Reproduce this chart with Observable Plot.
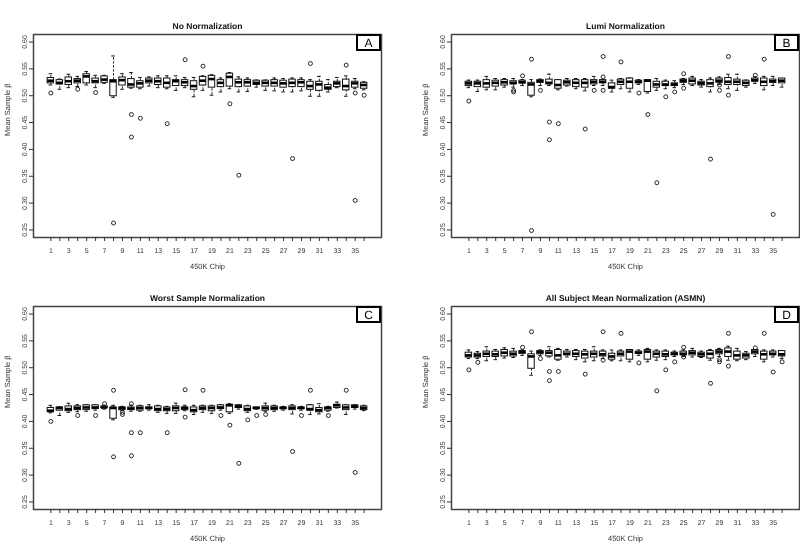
<!DOCTYPE html>
<html><head><meta charset="utf-8">
<script src="https://cdn.jsdelivr.net/npm/d3@7"></script>
<script src="https://cdn.jsdelivr.net/npm/@observablehq/plot@0.6"></script>
<style>
body{margin:0;background:#fff;}
#wrap{position:relative;width:800px;height:544px;overflow:hidden;background:#fff;}
.panel{position:absolute;will-change:transform;-webkit-font-smoothing:antialiased;}
.panel svg text{text-rendering:geometricPrecision;}
</style></head><body><div id="wrap"></div>
<script>
const chips = d3.range(1, 37);
const yTicks = [0.25, 0.30, 0.35, 0.40, 0.45, 0.50, 0.55, 0.60];
const panelTitles = ["No Normalization", "Lumi Normalization", "Worst Sample Normalization", "All Subject Mean Normalization (ASMN)"];
const panelLetters = ["A", "B", "C", "D"];
const xLabel = "450K Chip";
const yLabel = "Mean Sample \u03b2";

// Panel A: No Normalization
const aLo  = [0.520,0.512,0.515,0.517,0.520,0.515,0.523,0.497,0.512,0.514,0.513,0.518,0.515,0.513,0.510,0.515,0.498,0.510,0.501,0.507,0.513,0.507,0.508,0.516,0.510,0.509,0.507,0.507,0.509,0.499,0.499,0.507,0.515,0.499,0.513,0.511];
const aQ1  = [0.523,0.521,0.520,0.523,0.523,0.523,0.524,0.499,0.519,0.515,0.515,0.523,0.520,0.515,0.518,0.518,0.511,0.519,0.515,0.516,0.517,0.516,0.517,0.520,0.517,0.517,0.515,0.516,0.516,0.511,0.509,0.511,0.516,0.510,0.515,0.513];
const aMed = [0.528,0.524,0.527,0.528,0.536,0.527,0.530,0.527,0.529,0.521,0.523,0.528,0.527,0.524,0.527,0.525,0.518,0.528,0.531,0.524,0.535,0.525,0.525,0.524,0.524,0.524,0.523,0.524,0.525,0.518,0.521,0.515,0.523,0.518,0.523,0.520];
const aQ3  = [0.533,0.529,0.534,0.531,0.540,0.532,0.536,0.529,0.534,0.531,0.527,0.532,0.532,0.532,0.529,0.529,0.527,0.535,0.537,0.529,0.541,0.530,0.529,0.528,0.528,0.529,0.528,0.530,0.529,0.526,0.526,0.520,0.526,0.530,0.526,0.524];
const aHi  = [0.541,0.531,0.540,0.536,0.545,0.538,0.538,0.574,0.541,0.543,0.534,0.535,0.537,0.537,0.537,0.534,0.534,0.537,0.539,0.533,0.543,0.535,0.533,0.529,0.529,0.533,0.532,0.533,0.533,0.530,0.536,0.530,0.534,0.537,0.532,0.526];
const aOut = [[1,0.505],[4,0.512],[6,0.506],[8,0.263],[10,0.465],[10,0.423],[11,0.458],[14,0.448],[16,0.567],[18,0.555],[21,0.485],[22,0.352],[28,0.383],[30,0.560],[34,0.557],[35,0.505],[35,0.305],[36,0.501]];

// Panel B: Lumi Normalization
const bLo  = [0.515,0.508,0.511,0.511,0.516,0.516,0.519,0.498,0.519,0.519,0.511,0.518,0.513,0.509,0.519,0.519,0.507,0.513,0.507,0.521,0.505,0.510,0.513,0.515,0.521,0.519,0.516,0.507,0.521,0.513,0.510,0.516,0.523,0.511,0.519,0.516];
const bQ1  = [0.518,0.516,0.515,0.517,0.519,0.521,0.523,0.500,0.524,0.521,0.513,0.519,0.516,0.515,0.521,0.523,0.513,0.520,0.513,0.523,0.507,0.515,0.518,0.518,0.524,0.521,0.519,0.516,0.524,0.520,0.520,0.518,0.526,0.518,0.524,0.523];
const bMed = [0.523,0.523,0.523,0.524,0.525,0.524,0.525,0.521,0.527,0.524,0.520,0.525,0.524,0.524,0.526,0.526,0.516,0.526,0.526,0.526,0.528,0.521,0.521,0.521,0.528,0.528,0.523,0.523,0.528,0.526,0.526,0.524,0.529,0.526,0.527,0.528];
const bQ3  = [0.526,0.526,0.529,0.528,0.529,0.527,0.528,0.524,0.529,0.530,0.529,0.528,0.529,0.529,0.529,0.529,0.523,0.530,0.532,0.528,0.529,0.526,0.526,0.523,0.530,0.532,0.526,0.529,0.532,0.533,0.530,0.528,0.532,0.532,0.530,0.532];
const bHi  = [0.529,0.529,0.536,0.532,0.532,0.532,0.530,0.530,0.531,0.540,0.530,0.532,0.532,0.532,0.536,0.530,0.529,0.532,0.533,0.530,0.530,0.532,0.529,0.528,0.532,0.536,0.530,0.533,0.535,0.540,0.540,0.529,0.535,0.536,0.536,0.532];
const bOut = [[1,0.490],[6,0.510],[6,0.507],[7,0.537],[8,0.568],[8,0.249],[9,0.510],[10,0.451],[10,0.418],[11,0.448],[14,0.438],[15,0.510],[16,0.573],[16,0.535],[16,0.510],[18,0.563],[20,0.505],[21,0.465],[22,0.338],[23,0.498],[24,0.507],[25,0.541],[25,0.514],[28,0.382],[29,0.520],[29,0.510],[30,0.573],[30,0.501],[33,0.538],[34,0.568],[35,0.279]];

// Panel C: Worst Sample Normalization
const cLo  = [0.416,0.411,0.417,0.418,0.419,0.421,0.423,0.403,0.420,0.419,0.419,0.421,0.417,0.415,0.415,0.420,0.413,0.417,0.415,0.421,0.415,0.423,0.417,0.423,0.419,0.419,0.421,0.414,0.421,0.413,0.414,0.419,0.425,0.413,0.423,0.420];
const cQ1  = [0.417,0.420,0.419,0.421,0.421,0.423,0.425,0.405,0.421,0.421,0.420,0.423,0.419,0.419,0.419,0.421,0.417,0.421,0.419,0.423,0.417,0.425,0.419,0.423,0.420,0.421,0.423,0.421,0.423,0.420,0.417,0.420,0.425,0.421,0.425,0.421];
const cMed = [0.420,0.425,0.423,0.425,0.426,0.426,0.426,0.425,0.425,0.424,0.425,0.425,0.423,0.423,0.425,0.425,0.421,0.425,0.425,0.426,0.430,0.428,0.423,0.425,0.425,0.425,0.425,0.425,0.425,0.423,0.421,0.425,0.430,0.426,0.428,0.425];
const cQ3  = [0.425,0.426,0.428,0.428,0.430,0.430,0.428,0.426,0.426,0.426,0.428,0.426,0.428,0.426,0.428,0.426,0.426,0.428,0.428,0.430,0.431,0.430,0.428,0.426,0.428,0.428,0.426,0.428,0.426,0.430,0.425,0.426,0.431,0.430,0.430,0.428];
const cHi  = [0.430,0.427,0.434,0.431,0.431,0.431,0.430,0.430,0.428,0.430,0.430,0.431,0.430,0.428,0.434,0.430,0.430,0.430,0.430,0.431,0.433,0.431,0.430,0.426,0.434,0.430,0.428,0.431,0.428,0.431,0.433,0.428,0.436,0.431,0.431,0.430];
const cOut = [[1,0.400],[4,0.411],[6,0.411],[7,0.433],[8,0.458],[8,0.334],[9,0.417],[9,0.413],[10,0.433],[10,0.379],[10,0.336],[11,0.379],[14,0.379],[16,0.459],[16,0.408],[18,0.458],[20,0.411],[21,0.393],[22,0.322],[23,0.403],[24,0.411],[25,0.413],[28,0.344],[29,0.411],[30,0.458],[32,0.411],[34,0.458],[35,0.305]];

// Panel D: All Subject Mean Normalization (ASMN)
const dLo  = [0.517,0.517,0.513,0.515,0.518,0.519,0.523,0.486,0.523,0.520,0.514,0.520,0.515,0.511,0.513,0.517,0.513,0.513,0.511,0.523,0.511,0.514,0.515,0.521,0.521,0.520,0.519,0.514,0.521,0.514,0.513,0.515,0.521,0.511,0.520,0.517];
const dQ1  = [0.519,0.519,0.520,0.520,0.521,0.521,0.526,0.498,0.525,0.521,0.515,0.523,0.520,0.517,0.519,0.521,0.515,0.521,0.515,0.526,0.515,0.519,0.520,0.523,0.523,0.523,0.520,0.517,0.525,0.520,0.515,0.517,0.525,0.515,0.523,0.521];
const dMed = [0.523,0.523,0.526,0.525,0.528,0.526,0.529,0.521,0.529,0.528,0.523,0.526,0.526,0.525,0.526,0.525,0.521,0.526,0.530,0.528,0.530,0.526,0.525,0.526,0.526,0.528,0.525,0.526,0.530,0.530,0.523,0.523,0.530,0.525,0.526,0.525];
const dQ3  = [0.528,0.526,0.530,0.530,0.533,0.530,0.531,0.525,0.531,0.531,0.533,0.530,0.531,0.530,0.530,0.530,0.526,0.530,0.533,0.530,0.533,0.530,0.530,0.528,0.530,0.531,0.528,0.531,0.533,0.536,0.530,0.526,0.533,0.530,0.530,0.531];
const dHi  = [0.533,0.530,0.539,0.534,0.537,0.536,0.533,0.531,0.533,0.539,0.536,0.534,0.534,0.534,0.539,0.533,0.533,0.533,0.534,0.533,0.536,0.533,0.533,0.531,0.533,0.536,0.531,0.534,0.536,0.540,0.536,0.530,0.534,0.533,0.533,0.531];
const dOut = [[1,0.496],[2,0.510],[7,0.538],[8,0.567],[9,0.517],[10,0.493],[10,0.476],[11,0.493],[14,0.488],[16,0.567],[16,0.514],[18,0.564],[20,0.509],[22,0.457],[23,0.496],[24,0.511],[25,0.538],[25,0.520],[28,0.471],[29,0.515],[29,0.511],[30,0.564],[30,0.503],[33,0.537],[34,0.564],[35,0.492],[36,0.511]];

const FONT = "Liberation Sans, Arial, Helvetica, sans-serif";
const INK = "#111";

function letterBox(letter) {
  return (index, scales, values, dims) => {
    const g = d3.create("svg:g");
    const bw = 23, bh = 15;
    const x0 = dims.width - dims.marginRight - bw - 1;
    const y0 = dims.marginTop + 1;
    g.append("rect").attr("x", x0).attr("y", y0).attr("width", bw).attr("height", bh)
      .attr("fill", "white").attr("stroke", "#000").attr("stroke-width", 2);
    g.append("text").attr("x", x0 + bw / 2).attr("y", y0 + bh / 2).attr("dy", "0.36em")
      .attr("text-anchor", "middle").attr("font-size", 12).attr("font-family", FONT).attr("fill", "#000").text(letter);
    return g.node();
  };
}

function panel(title, letter, lo, q1, med, q3, hi, out) {
  const rows = chips.map((c, i) => ({chip: c, lo: lo[i], q1: q1[i], med: med[i], q3: q3[i], hi: hi[i]}));
  const outs = out.map(([c, v]) => ({chip: c, v}));
  const hw = 0.36, sw = 0.2;
  return Plot.plot({
    width: 382, height: 272,
    marginLeft: 33, marginRight: 1, marginTop: 34, marginBottom: 35,
    style: {fontFamily: FONT, background: "transparent", overflow: "visible", color: "#333"},
    x: {type: "linear", domain: [-0.94, 37.94]},
    y: {domain: [0.236, 0.614]},
    marks: [
      Plot.ruleX(rows, {x: "chip", y1: "q3", y2: "hi", stroke: INK, strokeWidth: 0.9, strokeDasharray: "2.5,1.5"}),
      Plot.ruleX(rows, {x: "chip", y1: "lo", y2: "q1", stroke: INK, strokeWidth: 0.9, strokeDasharray: "2.5,1.5"}),
      Plot.ruleY(rows, {y: "hi", x1: d => d.chip - sw, x2: d => d.chip + sw, stroke: INK, strokeWidth: 1}),
      Plot.ruleY(rows, {y: "lo", x1: d => d.chip - sw, x2: d => d.chip + sw, stroke: INK, strokeWidth: 1}),
      Plot.rect(rows, {x1: d => d.chip - hw, x2: d => d.chip + hw, y1: "q1", y2: "q3", fill: "white", stroke: INK, strokeWidth: 1}),
      Plot.ruleY(rows, {y: "med", x1: d => d.chip - hw, x2: d => d.chip + hw, stroke: "#000", strokeWidth: 2.6}),
      Plot.dot(outs, {x: "chip", y: "v", r: 2, stroke: INK, strokeWidth: 0.9, fill: "none"}),
      Plot.frame({stroke: "#444", strokeWidth: 1.5}),
      Plot.axisY(yTicks, {tickFormat: d3.format(".2f"), tickRotate: -90, tickSize: 4, tickPadding: 3, fontSize: 7, label: null, stroke: "#333", fill: "#333"}),
      Plot.axisX(chips, {tickFormat: d => (d % 2 ? String(d) : ""), tickSize: 4, tickPadding: 7, fontSize: 7, label: null, stroke: "#333", fill: "#333"}),
      Plot.text([xLabel], {frameAnchor: "bottom", dy: 31, fontSize: 7.5, fill: "#333"}),
      Plot.text([yLabel], {frameAnchor: "left", dx: -26, rotate: -90, fontSize: 7.5, fill: "#333"}),
      Plot.text([title], {frameAnchor: "top", dy: -12, fontSize: 8.5, fontWeight: "bold", fill: "#111"}),
      letterBox(letter)
    ]
  });
}

const wrap = document.getElementById("wrap");
const specs = [
  [aLo, aQ1, aMed, aQ3, aHi, aOut, 0, 0],
  [bLo, bQ1, bMed, bQ3, bHi, bOut, 418, 0],
  [cLo, cQ1, cMed, cQ3, cHi, cOut, 0, 272],
  [dLo, dQ1, dMed, dQ3, dHi, dOut, 418, 272]
];
specs.forEach((s, i) => {
  const div = document.createElement("div");
  div.className = "panel";
  div.style.left = s[6] + "px";
  div.style.top = s[7] + "px";
  div.appendChild(panel(panelTitles[i], panelLetters[i], s[0], s[1], s[2], s[3], s[4], s[5]));
  wrap.appendChild(div);
});
</script></body></html>
